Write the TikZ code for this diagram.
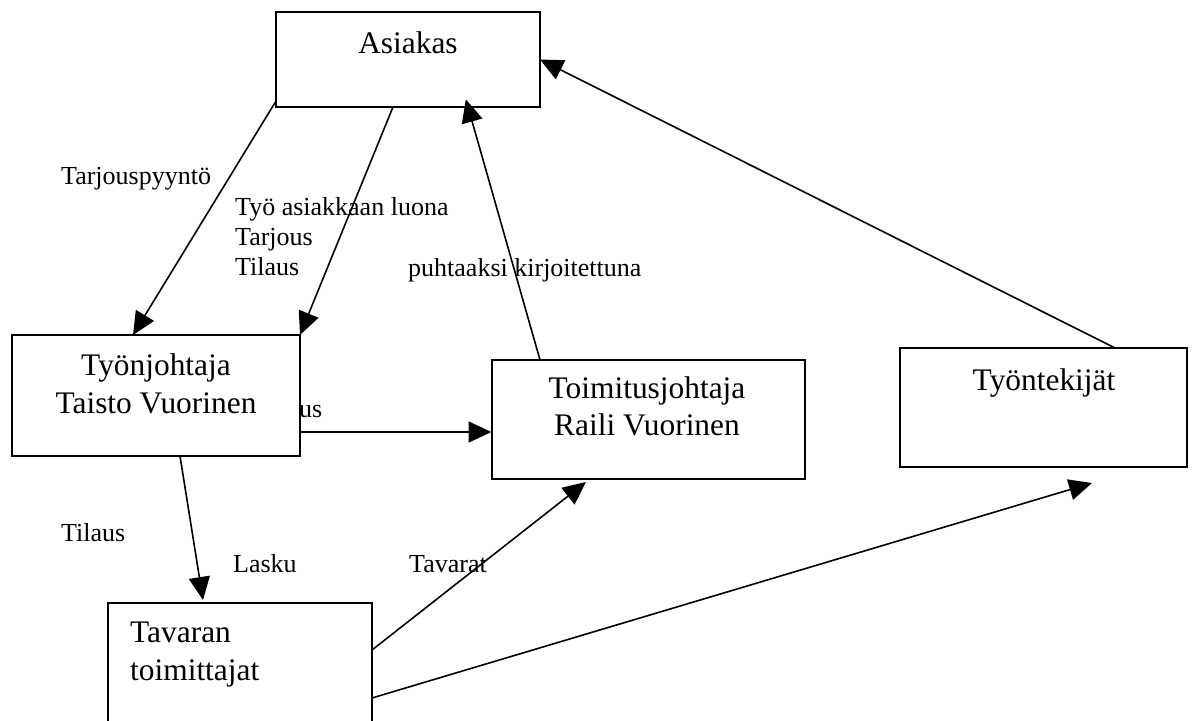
\documentclass[tikz,border=0pt]{standalone}
\usepackage{fontspec}
\setmainfont{Liberation Serif}
\usetikzlibrary{arrows.meta}
\begin{document}
\begin{tikzpicture}[x=1pt,y=-1pt,
  boxnode/.style={draw=black,line width=2pt,fill=white,rectangle,inner sep=0pt,outer sep=0pt},
  boxtext/.style={inner sep=0pt,font=\fontsize{31.4}{38}\selectfont},
  lbl/.style={inner sep=0pt,anchor=base west,font=\fontsize{26}{30}\selectfont},
  arr/.style={line width=1.6pt,-{Triangle[length=23pt,width=21pt]}},
  plainline/.style={line width=1.6pt}]
\useasboundingbox (0,0) rectangle (1193,720);
% labels
\node[lbl] (l1) at (61,184) {Tarjouspyyntö};
\node[lbl] (l2) at (235,215) {Työ asiakkaan luona};
\node[lbl] (l3) at (235,245) {Tarjous};
\node[lbl] (l4) at (235,275) {Tilaus};
\node[lbl] (l5) at (408,276) {puhtaaksi kirjoitettuna};
\node[lbl] (l6) at (299,417) {us};
\node[lbl] (l7) at (61,541) {Tilaus};
\node[lbl] (l8) at (233,572) {Lasku};
\node[lbl] (l9) at (409,572) {Tavarat};
% boxes
\node[boxnode,minimum width=264pt,minimum height=95pt] (asiakas) at (408,59.5) {};
\node[boxnode,minimum width=288pt,minimum height=121pt] (tyonj) at (156,395.5) {};
\node[boxnode,minimum width=313pt,minimum height=119pt] (toimitus) at (648,419.5) {};
\node[boxnode,minimum width=287pt,minimum height=119pt] (tyontek) at (1043.5,407.5) {};
\node[boxnode,minimum width=264pt,minimum height=121pt] (tavaran) at (240,663.5) {};
% box texts
\node[boxtext,anchor=base] (t1) at (408,53) {Asiakas};
\node[boxtext,anchor=base] (t2) at (156,375) {Työnjohtaja};
\node[boxtext,anchor=base] (t3) at (156,413) {Taisto Vuorinen};
\node[boxtext,anchor=base] (t4) at (647,398) {Toimitusjohtaja};
\node[boxtext,anchor=base] (t5) at (647,435) {Raili Vuorinen};
\node[boxtext,anchor=base] (t6) at (1044,390) {Työntekijät};
\node[boxtext,anchor=base west] (t7) at (130,642) {Tavaran};
\node[boxtext,anchor=base west] (t8) at (130,680) {toimittajat};
% connectors
\draw[arr] ([yshift=6pt]asiakas.south west) -- ([xshift=-23pt]tyonj.north);
\draw[arr] ([xshift=-15pt]asiakas.south) -- (tyonj.north east);
\draw[arr,shorten >=-8pt] ([xshift=-108pt]toimitus.north) -- ([xshift=60pt]asiakas.south);
\draw[arr] ([xshift=71.5pt]tyontek.north) -- (asiakas.east);
\draw[arr] ([yshift=-36.5pt]tyonj.east) coordinate (a5) -- (a5 -| toimitus.west);
\draw[arr] ([xshift=24pt]tyonj.south) -- ([xshift=-37pt,yshift=3pt]tavaran.north);
\draw[arr] ([yshift=13.5pt]tavaran.east) -- ([xshift=-62pt,yshift=-3pt]toimitus.south);
\draw[arr] ([yshift=-34.5pt]tavaran.east) -- ([xshift=48.5pt,yshift=-16pt]tyontek.south);
\end{tikzpicture}
\end{document}
